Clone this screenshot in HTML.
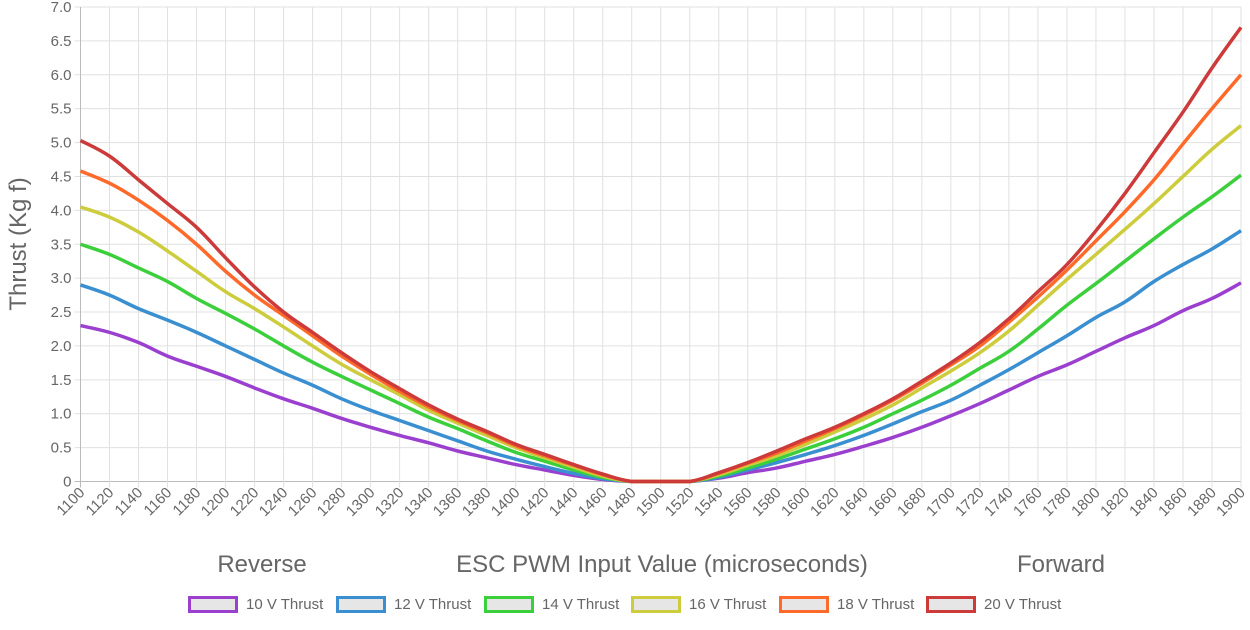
<!DOCTYPE html>
<html><head><meta charset="utf-8"><style>
body{margin:0;background:#fff;font-family:"Liberation Sans",sans-serif;}
svg text{font-family:"Liberation Sans",sans-serif;fill:#666;}
</style></head><body>
<svg id="c" width="1250" height="625" xmlns="http://www.w3.org/2000/svg">
<g id="grid"></g>
<g id="series"></g>
<g id="axes"></g>
<text x="26" y="244" font-size="24" text-anchor="middle" transform="rotate(-90 26 244)">Thrust (Kg f)</text>
<text x="262" y="572" font-size="24" text-anchor="middle">Reverse</text>
<text x="662" y="572" font-size="24" text-anchor="middle">ESC PWM Input Value (microseconds)</text>
<text x="1061" y="572" font-size="24" text-anchor="middle">Forward</text>
<g id="legend"></g>
</svg>
<script>
const xCats=[1100,1120,1140,1160,1180,1200,1220,1240,1260,1280,1300,1320,1340,1360,1380,1400,1420,1440,1460,1480,1500,1520,1540,1560,1580,1600,1620,1640,1660,1680,1700,1720,1740,1760,1780,1800,1820,1840,1860,1880,1900];
const yTicks=[0,0.5,1,1.5,2,2.5,3,3.5,4,4.5,5,5.5,6,6.5,7];
const yTickLabels=["0","0.5","1.0","1.5","2.0","2.5","3.0","3.5","4.0","4.5","5.0","5.5","6.0","6.5","7.0"];
const seriesNames=["10 V Thrust","12 V Thrust","14 V Thrust","16 V Thrust","18 V Thrust","20 V Thrust"];
const seriesColors=["#9b3fcf","#3a8fd0","#3ccf3c","#cccc3c","#ff6a2a","#cc3a3a"];
const v10=[2.3,2.2,2.05,1.85,1.7,1.55,1.38,1.22,1.08,0.93,0.8,0.68,0.57,0.45,0.35,0.25,0.17,0.09,0.03,0,0,0,0.05,0.13,0.2,0.3,0.4,0.52,0.65,0.8,0.97,1.15,1.35,1.55,1.72,1.92,2.12,2.3,2.52,2.7,2.93];
const v12=[2.9,2.75,2.55,2.38,2.2,2.0,1.8,1.6,1.42,1.22,1.05,0.9,0.75,0.6,0.45,0.33,0.22,0.12,0.04,0,0,0,0.06,0.17,0.28,0.4,0.53,0.68,0.85,1.03,1.2,1.42,1.65,1.9,2.15,2.42,2.65,2.95,3.2,3.43,3.7];
const v14=[3.5,3.35,3.15,2.95,2.7,2.48,2.25,2.0,1.76,1.55,1.35,1.15,0.95,0.78,0.6,0.43,0.3,0.17,0.06,0,0,0,0.08,0.2,0.33,0.48,0.63,0.8,1.0,1.2,1.42,1.67,1.92,2.25,2.6,2.92,3.25,3.58,3.9,4.2,4.52];
const v16=[4.05,3.9,3.68,3.4,3.1,2.8,2.55,2.28,2.0,1.73,1.5,1.28,1.05,0.86,0.68,0.5,0.35,0.21,0.08,0,0,0,0.1,0.24,0.38,0.55,0.73,0.92,1.13,1.38,1.63,1.9,2.22,2.6,2.98,3.35,3.72,4.1,4.5,4.9,5.25];
const v18=[4.58,4.4,4.15,3.85,3.5,3.1,2.75,2.45,2.15,1.85,1.58,1.33,1.1,0.9,0.72,0.53,0.38,0.24,0.1,0,0,0,0.12,0.27,0.42,0.6,0.78,0.98,1.2,1.45,1.72,2.0,2.35,2.72,3.12,3.55,3.98,4.45,4.98,5.5,6.0];
const v20=[5.03,4.8,4.45,4.1,3.75,3.3,2.87,2.5,2.2,1.9,1.62,1.37,1.13,0.92,0.74,0.55,0.4,0.25,0.11,0,0,0,0.13,0.28,0.45,0.63,0.8,1.0,1.22,1.48,1.75,2.05,2.4,2.8,3.2,3.7,4.25,4.85,5.45,6.1,6.7];
const allSeries=[v10,v12,v14,v16,v18,v20];

const NS="http://www.w3.org/2000/svg";
const L=80.5,R=1241,T=7,B=481.5;
const xs=v=>L+(v-1100)/(1900-1100)*(R-L);
const ys=v=>B-v/7*(B-T);
function mk(tag,attrs,parent){const e=document.createElementNS(NS,tag);for(const k in attrs)e.setAttribute(k,attrs[k]);parent.appendChild(e);return e;}
const grid=document.getElementById('grid'),axes=document.getElementById('axes'),ser=document.getElementById('series'),leg=document.getElementById('legend');
yTicks.forEach((t,i)=>{
  const y=ys(t);
  const ln=mk('line',{x1:L-6,x2:R,y1:y,y2:y,stroke:i===0?'#bbb':'#e0e0e0','stroke-width':1},grid);
  
  
  const tx=mk('text',{x:L-9,y:y+5,'font-size':15,'text-anchor':'end'},axes);
  tx.textContent=yTickLabels[i];
  
  
});
xCats.forEach((c,i)=>{
  const x=xs(c);
  const ln=mk('line',{x1:x,x2:x,y1:T,y2:B+6,stroke:i===0?'#bbb':'#e0e0e0','stroke-width':1},grid);
  
  
  const tx=mk('text',{x:x+5,y:B+12,'font-size':15,'text-anchor':'end',transform:`rotate(-45 ${x+5} ${B+12})`},axes);
  tx.textContent=String(c);
  
  
});
function smooth(pts){let d=`M${pts[0][0]},${pts[0][1]}`;for(let i=0;i<pts.length-1;i++){const p0=pts[Math.max(0,i-1)],p1=pts[i],p2=pts[i+1],p3=pts[Math.min(pts.length-1,i+2)];const t=0.2;
const c1=[p1[0]+(p2[0]-p0[0])*t,p1[1]+(p2[1]-p0[1])*t],c2=[p2[0]-(p3[0]-p1[0])*t,p2[1]-(p3[1]-p1[1])*t];
c1[1]=Math.min(c1[1],B);c2[1]=Math.min(c2[1],B);
d+=` C${c1[0]},${c1[1]} ${c2[0]},${c2[1]} ${p2[0]},${p2[1]}`;}return d;}
allSeries.forEach((s,k)=>{
  const pts=s.map((v,i)=>[xs(xCats[i]),ys(v)]);
  const p=mk('path',{d:smooth(pts),fill:'none',stroke:seriesColors[k],'stroke-width':3.5,'stroke-linejoin':'round'},ser);
  
  
});
const legX=[188,336,484,631,779,926];
seriesNames.forEach((n,k)=>{
  const g=mk('g',{},leg);
  
  
  mk('rect',{x:legX[k]+1.5,y:597.5,width:47,height:14,fill:'#e6e6e6',stroke:seriesColors[k],'stroke-width':3},g);
  const t=mk('text',{x:legX[k]+58,y:609,'font-size':15},g);
  t.textContent=n;
});
</script>
</body></html>
